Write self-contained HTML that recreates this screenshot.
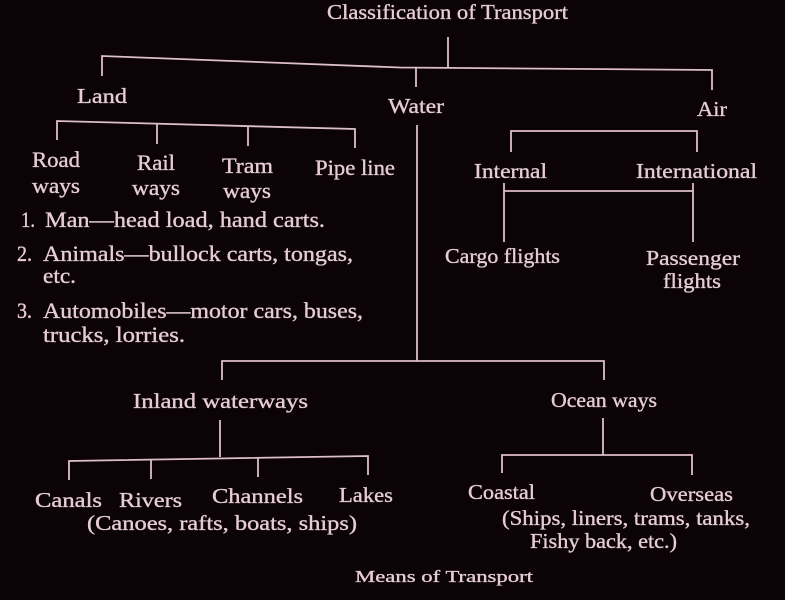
<!DOCTYPE html>
<html>
<head>
<meta charset="utf-8">
<style>
  html,body{margin:0;padding:0;background:#0b0306;}
  svg{display:block;}
  text{font-family:"Liberation Serif",serif;fill:#e6ccd6;font-size:21px;stroke:#e6ccd6;stroke-width:0.35px;}
  text.l{font-size:22px;}
</style>
</head>
<body>
<svg width="785" height="600" viewBox="0 0 785 600" xmlns="http://www.w3.org/2000/svg">
  <rect width="785" height="600" fill="#0b0306"/>
  <g stroke="#dcbfcb" stroke-width="1.8" fill="none">
    <line x1="448" y1="37" x2="448" y2="67"/>
    <polyline points="102,76 102,56 400,67.5 712,70 712,90"/>
    <line x1="416" y1="67" x2="416" y2="87"/>
    <polyline points="57,140 57,121 355,129 355,148"/>
    <line x1="157" y1="124" x2="157" y2="144"/>
    <line x1="248" y1="126" x2="248" y2="146"/>
    <line x1="417" y1="125" x2="417" y2="361"/>
    <polyline points="222,380 222,361 604,361 604,380"/>
    <polyline points="511,152 511,131 697,131 697,152"/>
    <line x1="504" y1="183" x2="504" y2="242"/>
    <line x1="693" y1="183" x2="693" y2="242"/>
    <line x1="504" y1="191" x2="693" y2="191"/>
    <line x1="220" y1="420" x2="220" y2="457"/>
    <polyline points="69,480 69,461 368,456 368,475"/>
    <line x1="151" y1="459" x2="151" y2="479"/>
    <line x1="258" y1="458" x2="258" y2="477"/>
    <line x1="603" y1="418" x2="603" y2="455"/>
    <polyline points="502,473 502,455 692,455 692,475"/>
  </g>

  <g>
    <text x="327" y="19" textLength="241" lengthAdjust="spacingAndGlyphs">Classification of Transport</text>
    <text x="77" y="103" textLength="50" lengthAdjust="spacingAndGlyphs">Land</text>
    <text x="388" y="113" textLength="56" lengthAdjust="spacingAndGlyphs">Water</text>
    <text x="697" y="116" textLength="30" lengthAdjust="spacingAndGlyphs">Air</text>

    <text class="l" x="32" y="167" textLength="48" lengthAdjust="spacingAndGlyphs">Road</text>
    <text class="l" x="32" y="193" textLength="48" lengthAdjust="spacingAndGlyphs">ways</text>
    <text class="l" x="137" y="170" textLength="38" lengthAdjust="spacingAndGlyphs">Rail</text>
    <text class="l" x="132" y="195" textLength="48" lengthAdjust="spacingAndGlyphs">ways</text>
    <text class="l" x="222" y="173" textLength="51" lengthAdjust="spacingAndGlyphs">Tram</text>
    <text class="l" x="223" y="198" textLength="48" lengthAdjust="spacingAndGlyphs">ways</text>
    <text class="l" x="315" y="175" textLength="80" lengthAdjust="spacingAndGlyphs">Pipe line</text>

    <text x="474" y="178" textLength="73" lengthAdjust="spacingAndGlyphs">Internal</text>
    <text x="636" y="178" textLength="121" lengthAdjust="spacingAndGlyphs">International</text>
    <text x="445" y="263" textLength="115" lengthAdjust="spacingAndGlyphs">Cargo flights</text>
    <text x="646" y="265" textLength="94" lengthAdjust="spacingAndGlyphs">Passenger</text>
    <text x="663" y="288" textLength="58" lengthAdjust="spacingAndGlyphs">flights</text>

    <text class="l" x="21" y="227" textLength="14" lengthAdjust="spacingAndGlyphs">1.</text>
    <text class="l" x="45" y="227" textLength="280" lengthAdjust="spacingAndGlyphs">Man—head load, hand carts.</text>
    <text class="l" x="17" y="261" textLength="15" lengthAdjust="spacingAndGlyphs">2.</text>
    <text class="l" x="43" y="261" textLength="310" lengthAdjust="spacingAndGlyphs">Animals—bullock carts, tongas,</text>
    <text class="l" x="43" y="283" textLength="33" lengthAdjust="spacingAndGlyphs">etc.</text>
    <text class="l" x="17" y="318" textLength="15" lengthAdjust="spacingAndGlyphs">3.</text>
    <text class="l" x="43" y="318" textLength="320" lengthAdjust="spacingAndGlyphs">Automobiles—motor cars, buses,</text>
    <text class="l" x="43" y="342" textLength="142" lengthAdjust="spacingAndGlyphs">trucks, lorries.</text>

    <text x="133" y="408" textLength="175" lengthAdjust="spacingAndGlyphs">Inland waterways</text>
    <text x="551" y="407" textLength="106" lengthAdjust="spacingAndGlyphs">Ocean ways</text>

    <text x="35" y="507" textLength="67" lengthAdjust="spacingAndGlyphs">Canals</text>
    <text x="119" y="507" textLength="63" lengthAdjust="spacingAndGlyphs">Rivers</text>
    <text x="212" y="503" textLength="91" lengthAdjust="spacingAndGlyphs">Channels</text>
    <text x="339" y="502" textLength="54" lengthAdjust="spacingAndGlyphs">Lakes</text>
    <text x="87" y="530" textLength="270" lengthAdjust="spacingAndGlyphs">(Canoes, rafts, boats, ships)</text>

    <text x="468" y="499" textLength="67" lengthAdjust="spacingAndGlyphs">Coastal</text>
    <text x="650" y="501" textLength="83" lengthAdjust="spacingAndGlyphs">Overseas</text>
    <text x="502" y="525" textLength="248" lengthAdjust="spacingAndGlyphs">(Ships, liners, trams, tanks,</text>
    <text x="530" y="548" textLength="147" lengthAdjust="spacingAndGlyphs">Fishy back, etc.)</text>

    <text x="355" y="582" textLength="178" lengthAdjust="spacingAndGlyphs" style="font-size:17px">Means of Transport</text>
  </g>
</svg>
</body>
</html>
